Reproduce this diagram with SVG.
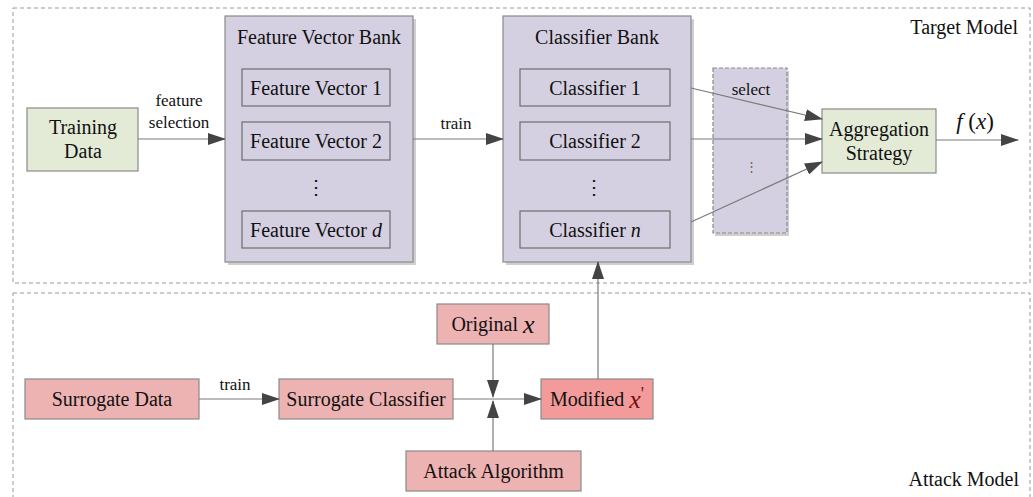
<svg xmlns="http://www.w3.org/2000/svg" width="1033" height="497" viewBox="0 0 1033 497" font-family="'Liberation Serif', 'DejaVu Serif', serif">
<defs>
<marker id="ah" markerWidth="18" markerHeight="12" refX="17" refY="6" orient="auto" markerUnits="userSpaceOnUse"><path d="M0,0 L18,6 L0,12 z" fill="#444"/></marker>
</defs>
<style>
text{font-family:'Liberation Serif','DejaVu Serif',serif;fill:#111;}
.lbl{font-size:20px;text-anchor:middle;dominant-baseline:central;}
.sm{font-size:17px;text-anchor:middle;dominant-baseline:central;}
.frame{fill:none;stroke:#999;stroke-width:1;stroke-dasharray:4,3;}
.green{fill:#e3ebd7;stroke:#8a8a8a;stroke-width:1.2;}
.bank{fill:#d5d0e1;stroke:#8a8a8a;stroke-width:1.2;}
.shadow{fill:#cfcfcf;}
.inner{fill:#d5d0e1;stroke:#6e6e6e;stroke-width:1.2;}
.pink{fill:#edb2b2;stroke:#8a8a8a;stroke-width:1.2;}
.red{fill:#f39b9b;stroke:#8a8a8a;stroke-width:1.2;}
.conn{fill:none;stroke:#7a7a7a;stroke-width:1.2;marker-end:url(#ah);}
.it{font-style:italic;}
</style>
<rect width="1033" height="497" fill="#fff"/>

<g id="target-model">
<rect class="frame" x="13" y="8" width="1017" height="275"/>
<text x="1018" y="27" font-size="20" text-anchor="end" dominant-baseline="central">Target Model</text>
</g>
<g id="attack-model">
<rect class="frame" x="13" y="293" width="1017" height="220"/>
<text x="1019" y="479" font-size="20" text-anchor="end" dominant-baseline="central">Attack Model</text>
</g>

<g id="training-data">
<rect class="green" x="27" y="108" width="111" height="63"/>
<text class="lbl" x="83" y="127">Training</text>
<text class="lbl" x="83" y="151">Data</text>
</g>

<g id="feature-vector-bank">
<rect class="shadow" x="228" y="19" width="188" height="246"/>
<rect class="bank" x="225" y="16" width="188" height="246"/>
<text class="lbl" x="319" y="37">Feature Vector Bank</text>
<rect class="inner" x="242" y="69" width="148" height="37"/>
<text class="lbl" x="316" y="88">Feature Vector 1</text>
<rect class="inner" x="242" y="122" width="148" height="38"/>
<text class="lbl" x="316" y="141">Feature Vector 2</text>
<text class="lbl" x="316" y="187">⋮</text>
<rect class="inner" x="242" y="211" width="148" height="37"/>
<text class="lbl" x="316" y="230">Feature Vector <tspan class="it">d</tspan></text>
</g>

<g id="classifier-bank">
<rect class="shadow" x="506" y="19" width="188" height="246"/>
<rect class="bank" x="503" y="16" width="188" height="246"/>
<text class="lbl" x="597" y="37">Classifier Bank</text>
<rect class="inner" x="520" y="69" width="150" height="37"/>
<text class="lbl" x="595" y="88">Classifier 1</text>
<rect class="inner" x="520" y="122" width="150" height="38"/>
<text class="lbl" x="595" y="141">Classifier 2</text>
<text class="lbl" x="594" y="187">⋮</text>
<rect class="inner" x="520" y="211" width="150" height="37"/>
<text class="lbl" x="595" y="230">Classifier <tspan class="it">n</tspan></text>
</g>

<g id="select">
<rect class="shadow" x="715" y="71" width="74" height="165"/>
<rect x="713" y="68" width="74" height="165" fill="#d5d0e1" stroke="#8a8a8a" stroke-width="1.2" stroke-dasharray="4,2"/>
<text class="sm" x="751" y="89">select</text>
<text x="751" y="166" font-size="13" text-anchor="middle" dominant-baseline="central" style="fill:#666">⋮</text>
</g>

<g id="aggregation-strategy">
<rect class="green" x="822" y="109" width="114" height="64"/>
<text class="lbl" x="879" y="129">Aggregation</text>
<text class="lbl" x="879" y="153">Strategy</text>
</g>

<g id="fx-label">
<text x="975" y="121" font-size="23" text-anchor="middle" dominant-baseline="central"><tspan class="it">f</tspan> (<tspan class="it">x</tspan>)</text>
</g>

<g id="surrogate-data">
<rect class="pink" x="25" y="379" width="174" height="40"/>
<text class="lbl" x="112" y="399">Surrogate Data</text>
</g>
<g id="surrogate-classifier">
<rect class="pink" x="279" y="379" width="174" height="40"/>
<text class="lbl" x="366" y="399">Surrogate Classifier</text>
</g>
<g id="original-x">
<rect class="pink" x="437" y="304" width="112" height="40"/>
<text class="lbl" x="493" y="324">Original <tspan class="it" font-size="26">x</tspan></text>
</g>
<g id="attack-algorithm">
<rect class="pink" x="406" y="451" width="175" height="40"/>
<text class="lbl" x="493.5" y="471">Attack Algorithm</text>
</g>
<g id="modified-x">
<rect class="red" x="541" y="379" width="112" height="40"/>
<text class="lbl" x="597" y="399">Modified <tspan class="it" font-size="26" style="fill:#7a1010">x</tspan><tspan font-size="18" style="fill:#7a1010" dy="-5">'</tspan></text>
</g>

<g id="connectors">
<line class="conn" x1="138" y1="139" x2="225" y2="139"/>
<text class="sm" x="179" y="100">feature</text>
<text class="sm" x="179" y="122">selection</text>
<line class="conn" x1="413" y1="139" x2="503" y2="139"/>
<text class="sm" x="456" y="123">train</text>
<line class="conn" x1="691" y1="88" x2="822" y2="119"/>
<line class="conn" x1="691" y1="139" x2="822" y2="139"/>
<line class="conn" x1="691" y1="222" x2="822" y2="162"/>
<line class="conn" x1="936" y1="140" x2="1018" y2="140"/>
<line class="conn" x1="199" y1="399" x2="279" y2="399"/>
<text class="sm" x="235" y="384">train</text>
<line class="conn" x1="453" y1="399" x2="541" y2="399"/>
<line class="conn" x1="493" y1="344" x2="493" y2="397"/>
<line class="conn" x1="493" y1="451" x2="493" y2="401"/>
<line class="conn" x1="598" y1="379" x2="598" y2="262"/>
</g>
</svg>
